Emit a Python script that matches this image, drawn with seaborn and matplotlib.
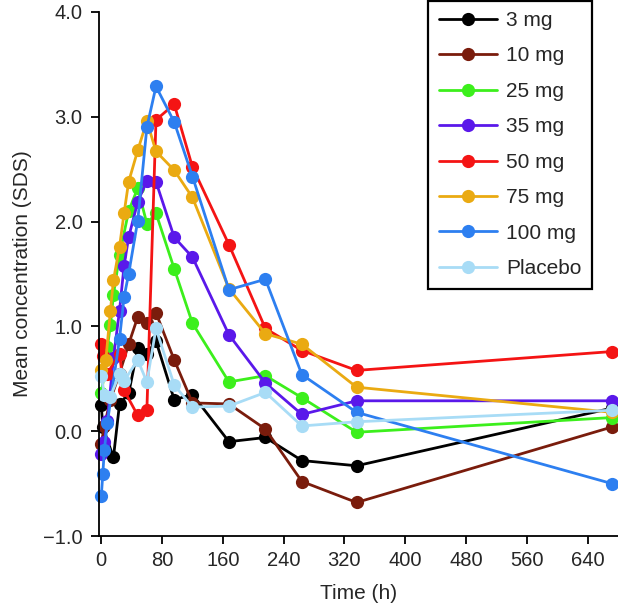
#mean concentration (SDS) over time for each dose group
#values

#imports
import pandas as pd
import matplotlib
matplotlib.use("Agg")
import matplotlib.pyplot as plt
from matplotlib.ticker import FuncFormatter
import seaborn as sns


#data: sampling times (h) and mean concentration (SDS) per dose group
t_3mg = [0, 2, 16, 24, 36, 48, 60, 72, 96, 120, 168, 216, 264, 336, 672]
c_3mg = [0.25, 0.04, -0.25, 0.26, 0.36, 0.79, 0.74, 0.86, 0.30, 0.35, -0.10, -0.06, -0.28, -0.33, 0.22]

t_10mg = [0, 4, 12, 24, 36, 48, 60, 72, 96, 120, 168, 216, 264, 336, 672]
c_10mg = [-0.12, 0.05, 0.30, 0.55, 0.83, 1.09, 1.03, 1.13, 0.68, 0.27, 0.26, 0.02, -0.48, -0.68, 0.04]

t_25mg = [0, 4, 8, 12, 16, 24, 36, 48, 60, 72, 96, 120, 168, 216, 264, 336, 672]
c_25mg = [0.36, 0.55, 0.80, 1.01, 1.30, 1.68, 2.10, 2.32, 1.98, 2.08, 1.55, 1.03, 0.47, 0.53, 0.32, -0.01, 0.13]

t_35mg = [0, 4, 8, 16, 24, 30, 36, 48, 60, 72, 96, 120, 168, 216, 264, 336, 672]
c_35mg = [-0.22, -0.10, 0.10, 0.70, 1.15, 1.58, 1.85, 2.19, 2.39, 2.38, 1.85, 1.66, 0.92, 0.46, 0.16, 0.29, 0.29]

t_50mg = [0, 2, 8, 24, 30, 48, 60, 72, 96, 120, 168, 216, 264, 336, 672]
c_50mg = [0.83, 0.72, 0.55, 0.74, 0.39, 0.15, 0.20, 2.97, 3.12, 2.52, 1.78, 0.98, 0.77, 0.58, 0.76]

t_75mg = [0, 6, 12, 16, 24, 30, 36, 48, 60, 72, 96, 120, 168, 216, 264, 336, 672]
c_75mg = [0.58, 0.68, 1.15, 1.44, 1.76, 2.08, 2.38, 2.68, 2.96, 2.67, 2.49, 2.23, 1.36, 0.93, 0.83, 0.42, 0.18]

t_100mg = [0, 2, 4, 8, 24, 30, 36, 48, 60, 72, 96, 120, 168, 216, 264, 336, 672]
c_100mg = [-0.62, -0.41, -0.18, 0.08, 0.88, 1.28, 1.50, 2.01, 2.90, 3.29, 2.95, 2.43, 1.35, 1.45, 0.54, 0.18, -0.50]

t_placebo = [0, 4, 12, 24, 30, 48, 60, 72, 96, 120, 168, 216, 264, 336, 672]
c_placebo = [0.53, 0.35, 0.33, 0.55, 0.48, 0.68, 0.47, 0.98, 0.44, 0.23, 0.24, 0.37, 0.05, 0.09, 0.20]

groups = ["3 mg", "10 mg", "25 mg", "35 mg", "50 mg", "75 mg", "100 mg", "Placebo"]
colors = ["#000000", "#7a1c0c", "#3cef1c", "#5a18ea", "#f41414", "#eaaa12", "#2d7ff0", "#a8dcf6"]

x_ticks = [0, 80, 160, 240, 320, 400, 480, 560, 640]
y_ticks = [-1.0, 0.0, 1.0, 2.0, 3.0, 4.0]

series = [
    (t_3mg, c_3mg),
    (t_10mg, c_10mg),
    (t_25mg, c_25mg),
    (t_35mg, c_35mg),
    (t_50mg, c_50mg),
    (t_75mg, c_75mg),
    (t_100mg, c_100mg),
    (t_placebo, c_placebo),
]

#long format table
frames = []
for name, (t, c) in zip(groups, series):
    frames.append(pd.DataFrame({"time": t, "conc": c, "group": name}))
df = pd.concat(frames, ignore_index=True)

sns.set_style("ticks")
plt.rcParams["font.family"] = ["Liberation Sans", "DejaVu Sans"]

fig = plt.figure(figsize=(6.18, 6.10), dpi=100)
ax = fig.add_axes([99 / 618, 1 - 536 / 610, (618 - 99) / 618, (536 - 12) / 610])

for name, col in zip(groups, colors):
    sub = df[df["group"] == name]
    sns.lineplot(
        data=sub,
        x="time",
        y="conc",
        color=col,
        label=name,
        marker="o",
        markersize=9.5,
        markeredgewidth=0,
        linewidth=2,
        estimator=None,
        ax=ax,
        clip_on=False,
    )

ax.set_xlim(-3, 680)
ax.set_ylim(-1.0, 4.0)
ax.set_xticks(x_ticks)
ax.set_yticks(y_ticks)
ax.yaxis.set_major_formatter(FuncFormatter(lambda v, p: f"{v:.1f}".replace("-", "\u2212")))
ax.tick_params(axis="both", direction="out", length=5.8, width=1.3, labelsize=14.5, color="black")
ax.tick_params(axis="y", pad=6)
ax.tick_params(axis="x", pad=5)
ax.set_xlabel("Time (h)", fontsize=15, labelpad=10)
ax.set_ylabel("Mean concentration (SDS)", fontsize=15, labelpad=8)

sns.despine(ax=ax)
for side in ["left", "bottom"]:
    ax.spines[side].set_linewidth(1.3)
    ax.spines[side].set_color("black")

leg = ax.legend(
    loc="upper right",
    bbox_to_anchor=(592 / 618, 0.999),
    bbox_transform=fig.transFigure,
    fontsize=15,
    frameon=True,
    fancybox=False,
    edgecolor="black",
    framealpha=1,
    handlelength=2.8,
    handletextpad=0.45,
    labelspacing=0.79,
    borderpad=0.5,
    borderaxespad=0,
)
leg.get_frame().set_linewidth(1.6)

fig.savefig("out.png", dpi=100)
